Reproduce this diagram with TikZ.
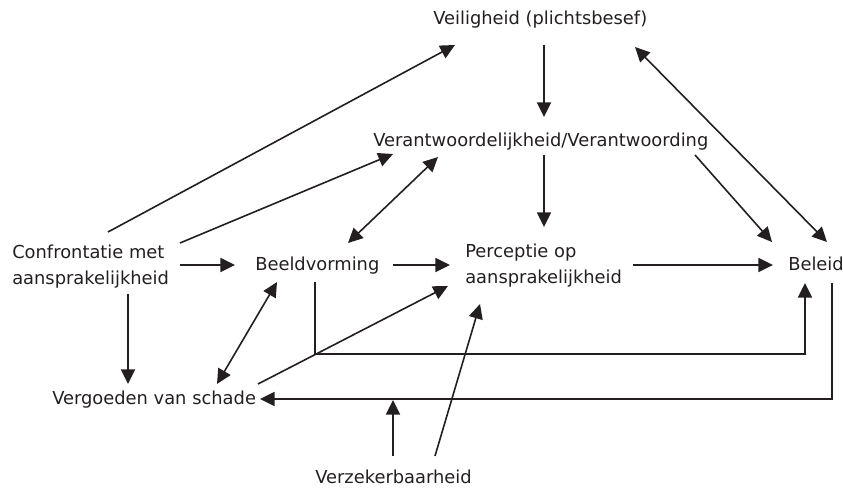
\documentclass[tikz,border=0pt]{standalone}
\usepackage{fontspec}
\setmainfont{DejaVu Sans}
\usetikzlibrary{arrows.meta}
\definecolor{ink}{RGB}{35,31,32}
\begin{document}
\begin{tikzpicture}[x=0.75pt,y=-0.75pt,
  lbl/.style={inner sep=0pt,anchor=base west,text=ink,font=\fontsize{13.4pt}{19pt}\selectfont},
  conn/.style={draw=ink,line width=1.2pt},
  arr/.style={conn,-{Triangle[length=11pt,width=10.5pt]}},
  dbl/.style={conn,{Triangle[length=11pt,width=10.5pt]}-{Triangle[length=11pt,width=10.5pt]}}]
\useasboundingbox (0,0) rectangle (843,488);
% nodes
\node[lbl] (veil)   at (433,25)  {Veiligheid (plichtsbesef)};
\node[lbl] (verant) at (373,147) {Verantwoordelijkheid/Verantwoording};
\node[lbl] (conf)   at (12,259)  {\begin{tabular}[t]{@{}l@{}}Confrontatie met\\aansprakelijkheid\end{tabular}};
\node[lbl] (beeld)  at (255,271) {Beeldvorming};
\node[lbl] (perc)   at (465,258) {\begin{tabular}[t]{@{}l@{}}Perceptie op\\aansprakelijkheid\end{tabular}};
\node[lbl] (beleid) at (788,271) {Beleid};
\node[lbl] (verg)   at (52,404)  {Vergoeden van schade};
\node[lbl] (verz)   at (315,483) {Verzekerbaarheid};
\coordinate (meet) at (393,400);
% connectors
\draw[arr] ([shift={(96,-27)}]conf.base west) -- ([shift={(22,20)}]veil.base west);
\draw[arr] ([shift={(168,-16)}]conf.base west) -- ([shift={(20,7)}]verant.base west);
\draw[arr] ([shift={(168,6)}]conf.base west) -- ([shift={(-20,-6)}]beeld.base west);
\draw[arr] ([shift={(116,35)}]conf.base west) -- ([shift={(76,-20)}]verg.base west);
\draw[dbl] ([shift={(22,11)}]beeld.base west) -- ([shift={(165,-20)}]verg.base west);
\draw[dbl] ([shift={(93,-28)}]beeld.base west) -- ([shift={(65,10)}]verant.base west);
\draw[arr] ([shift={(138,-6)}]beeld.base west) -- ([shift={(-15,7)}]perc.base west);
\draw[arr] ([shift={(206,-20)}]verg.base west) -- ([shift={(-17,28)}]perc.base west);
\draw[arr] ([shift={(120,-27)}]verz.base west) -- ([shift={(15,46)}]perc.base west);
\draw[arr] ([shift={(168,7)}]perc.base west) -- ([shift={(-15,-6)}]beleid.base west);
\draw[arr] ([shift={(60,11)}]beeld.base west) -- ++(0,72) -| ([shift={(17,12)}]beleid.base west);
\draw[arr] ([shift={(44,12)}]beleid.base west) |- ([shift={(208,-5)}]verg.base west);
\draw[arr] ([shift={(78,-27)}]verz.base west) -- (meet);
\draw[arr] ([shift={(111,20)}]veil.base west) -- ([shift={(171,-30)}]verant.base west);
\draw[arr] ([shift={(171,8)}]verant.base west) -- ([shift={(79,-31)}]perc.base west);
\draw[dbl] ([shift={(202,22)}]veil.base west) -- ([shift={(39,-29)}]beleid.base west);
\draw[arr] ([shift={(322,8)}]verant.base west) -- ([shift={(-16,-29)}]beleid.base west);
\end{tikzpicture}
\end{document}
